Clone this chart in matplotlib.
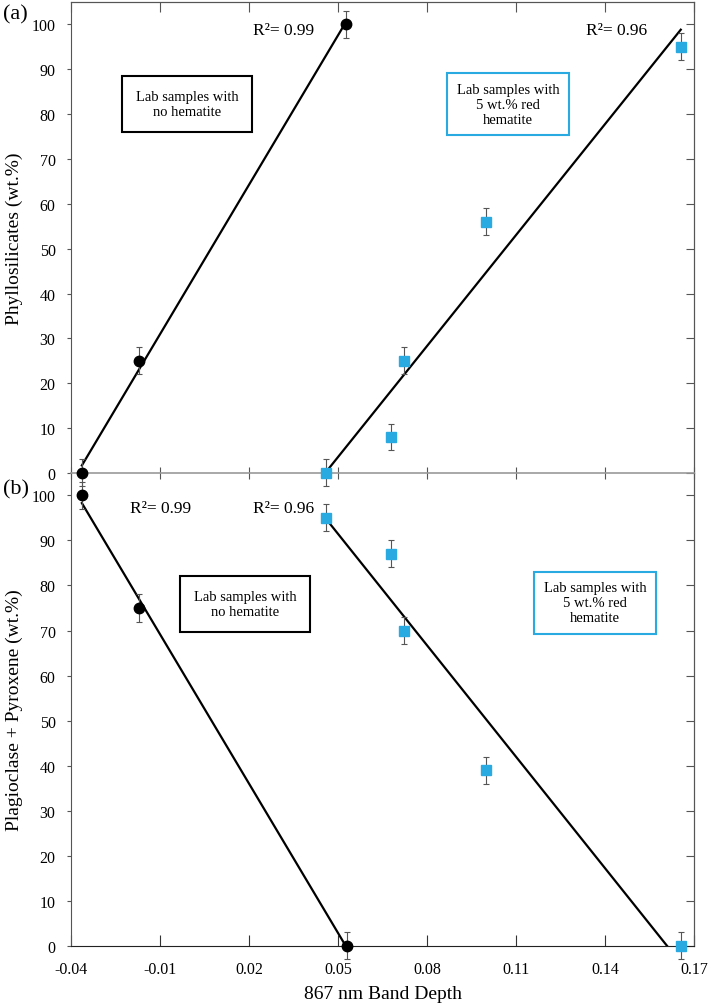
import numpy as np
import matplotlib
matplotlib.use('Agg')
import matplotlib.pyplot as plt

plt.rcParams['font.family'] = ['Liberation Serif', 'DejaVu Serif']

# data
bd_black = [-0.0363, -0.0172, 0.0526]
phyl_black = [0, 25, 100]
bd_blue = [0.0458, 0.068, 0.0723, 0.100, 0.1655]
phyl_blue = [0, 8, 25, 56, 95]
bd_black_b = [-0.0363, -0.0172, 0.0530]
plag_black = [100, 75, 0]
bd_blue_b = [0.0458, 0.068, 0.0723, 0.100, 0.1655]
plag_blue = [95, 87, 70, 39, 0]
err = 3
xticks = [-0.04, -0.01, 0.02, 0.05, 0.08, 0.11, 0.14, 0.17]
xticklabels = ['-0.04', '-0.01', '0.02', '0.05', '0.08', '0.11', '0.14', '0.17']
yticks = list(range(0, 101, 10))

blue = '#29abe2'
spine_gray = '#555555'

fig = plt.figure(figsize=(7.09, 10.04), dpi=100)
ax1 = fig.add_axes([0.100, 0.528, 0.879, 0.469])
ax2 = fig.add_axes([0.100, 0.057, 0.879, 0.471])
ax1.set_zorder(3)
ax1.patch.set_visible(False)


def draw(ax, xb, yb, xc, yc):
    for x, y, m, c, ms in [(xb, yb, 'o', 'black', 7.5), (xc, yc, 's', blue, 6.5)]:
        ax.errorbar(x, y, yerr=err, fmt=m, color=c, ms=ms, ecolor='#555555',
                    elinewidth=0.8, capsize=2, capthick=0.8, clip_on=False, zorder=4)
        p = np.polyfit(x, y, 1)
        xs = np.array([min(x), max(x)])
        ax.plot(xs, np.polyval(p, xs), color='black', lw=1.6, zorder=3)
    ax.set_xlim(-0.04, 0.17)
    ax.set_ylim(0, 105)
    ax.set_xticks(xticks)
    ax.set_yticks(yticks)
    for s in ['left', 'right']:
        ax.spines[s].set_color(spine_gray)
    ax.tick_params(axis='y', direction='out', length=3, labelsize=11.5, pad=8,
                   color=spine_gray, right=False)
    sec = ax.secondary_yaxis('right')
    sec.set_yticks(yticks)
    sec.tick_params(direction='in', length=6, color=spine_gray, labelright=False)
    sec.spines['right'].set_color(spine_gray)


draw(ax1, bd_black, phyl_black, bd_blue, phyl_blue)
draw(ax2, bd_black_b, plag_black, bd_blue_b, plag_blue)

# top panel: gray zero line with crossing ticks, inward ticks on top
ax1.spines['top'].set_color(spine_gray)
ax1.spines['bottom'].set_color('#999999')
ax1.spines['bottom'].set_linewidth(1.2)
ax1.tick_params(axis='x', direction='inout', length=9, color=spine_gray,
                labelbottom=False, top=False)
top = ax1.secondary_xaxis('top')
top.set_xticks(xticks)
top.tick_params(direction='in', length=7, color=spine_gray, labeltop=False)
top.spines['top'].set_color(spine_gray)

ax2.spines['top'].set_visible(False)
ax2.spines['bottom'].set_color('#222222')
ax2.tick_params(axis='x', direction='in', length=8, color='#333333', labelsize=11.5, pad=11)
ax2.set_xticklabels(xticklabels)

ax1.set_ylabel('Phyllosilicates (wt.%)', fontsize=14, labelpad=6)
ax2.set_ylabel('Plagioclase + Pyroxene (wt.%)', fontsize=14, labelpad=6)
ax2.set_xlabel('867 nm Band Depth', fontsize=14, labelpad=6)

fig.text(0.022, 0.985, '(a)', fontsize=16, ha='center', va='center')
fig.text(0.022, 0.512, '(b)', fontsize=16, ha='center', va='center')

box_kw = dict(fontsize=10.5, ha='center', va='center', linespacing=1.2, zorder=5)
ax1.text(-0.0009, 82.2, 'Lab samples with\nno hematite',
         bbox=dict(boxstyle='square,pad=0.95', fc='white', ec='black', lw=1.5), **box_kw)
ax1.text(0.1073, 82.2, 'Lab samples with\n5 wt.% red\nhematite',
         bbox=dict(boxstyle='square,pad=0.65', fc='white', ec=blue, lw=1.5), **box_kw)
ax2.text(0.0187, 75.9, 'Lab samples with\nno hematite',
         bbox=dict(boxstyle='square,pad=0.95', fc='white', ec='black', lw=1.5), **box_kw)
ax2.text(0.1366, 76.2, 'Lab samples with\n5 wt.% red\nhematite',
         bbox=dict(boxstyle='square,pad=0.65', fc='white', ec=blue, lw=1.5), **box_kw)

r_kw = dict(fontsize=12.5, ha='center', va='center')
ax1.text(0.0318, 98.7, 'R²= 0.99', **r_kw)
ax1.text(0.144, 98.7, 'R²= 0.96', **r_kw)
ax2.text(-0.0097, 97.1, 'R²= 0.99', **r_kw)
ax2.text(0.0315, 97.1, 'R²= 0.96', **r_kw)

fig.savefig('out.png', dpi=100)
